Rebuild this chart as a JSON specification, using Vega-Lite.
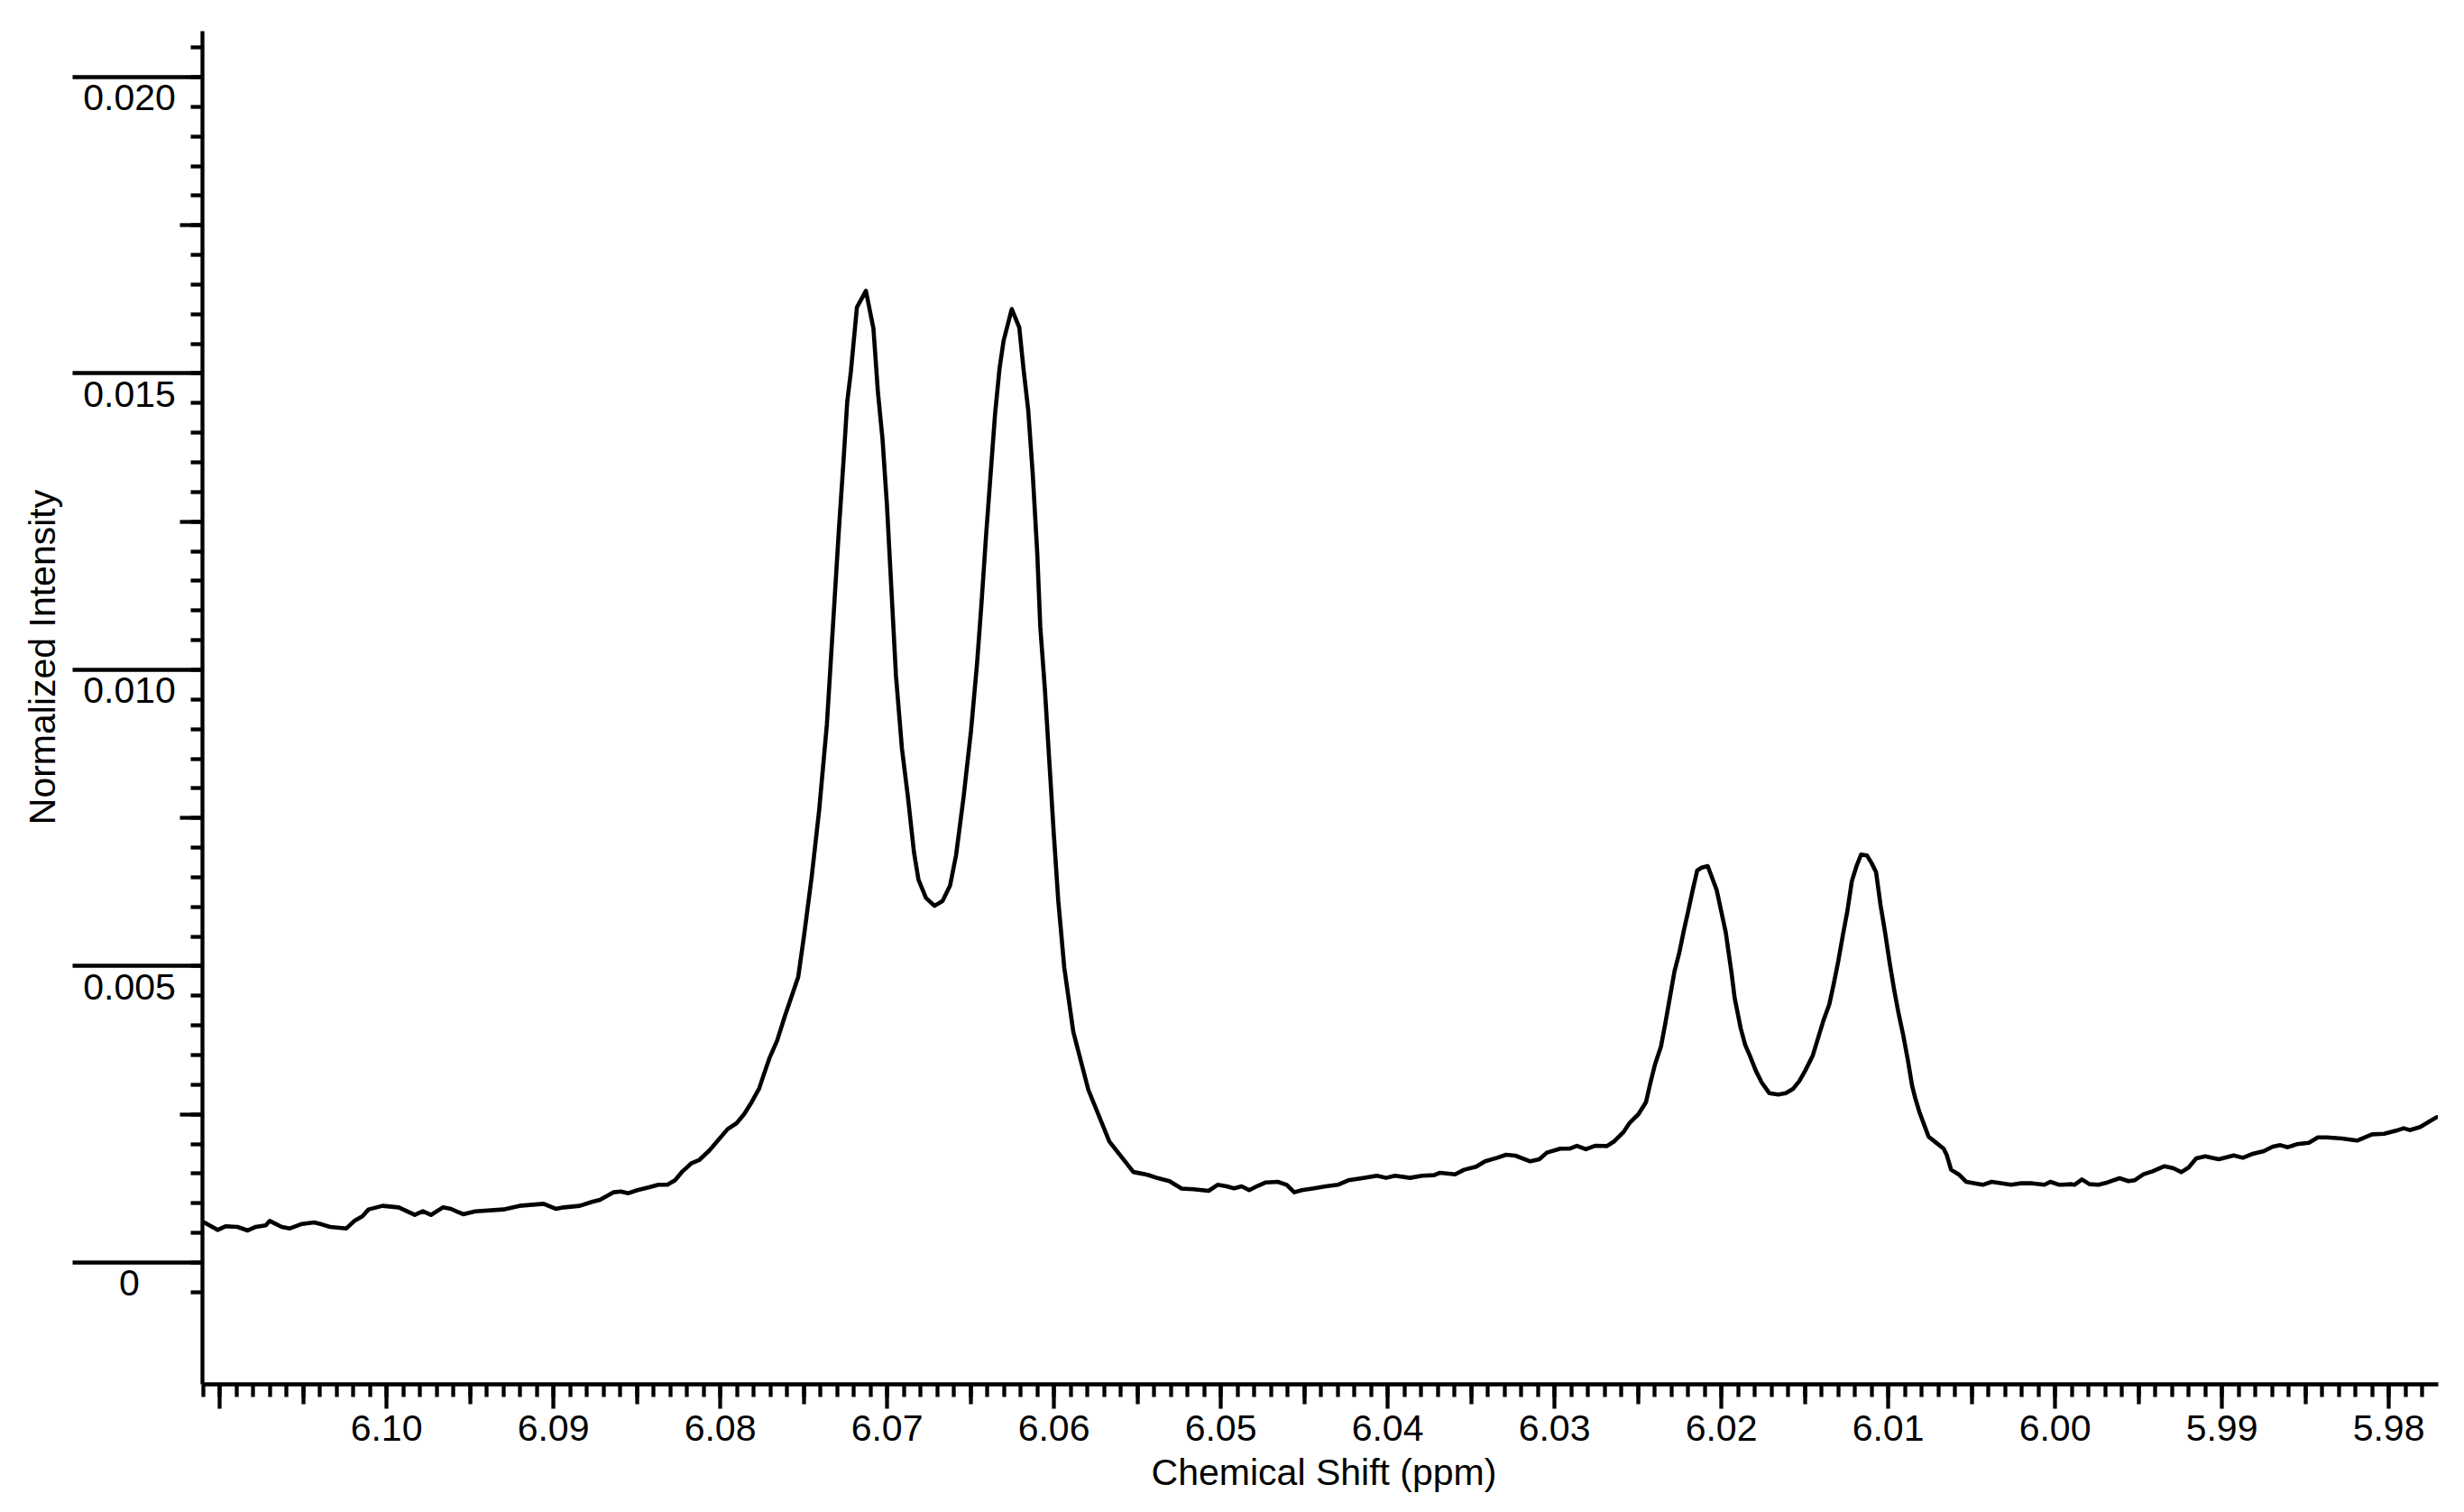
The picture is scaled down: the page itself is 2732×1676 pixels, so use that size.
{
"$schema": "https://vega.github.io/schema/vega-lite/v6.json",
"autosize": {"type": "none"},
"padding": {"left": 224, "top": 34, "right": 29, "bottom": 142},
"width": 2479,
"height": 1500,
"background": "white",
"config": {
  "view": {"stroke": null},
  "axis": {"grid": false, "domainColor": "black", "tickColor": "black", "labelColor": "black", "titleColor": "black", "labelFont": "Liberation Sans", "titleFont": "Liberation Sans", "labelFontSize": 41, "titleFontSize": 41, "titleFontWeight": "normal", "tickWidth": 4.3, "domainWidth": 4.3}
},
"data": {"values": [
{"ppm":6.11090,"intensity":0.000670},{"ppm":6.11010,"intensity":0.000543},{"ppm":6.10962,"intensity":0.000604},{"ppm":6.10890,"intensity":0.000594},{"ppm":6.10829,"intensity":0.000533},{"ppm":6.10781,"intensity":0.000594},{"ppm":6.10721,"intensity":0.000619},{"ppm":6.10697,"intensity":0.000695},{"ppm":6.10625,"intensity":0.000594},{"ppm":6.10576,"intensity":0.000568},{"ppm":6.10504,"intensity":0.000644},{"ppm":6.10431,"intensity":0.000670},{"ppm":6.10383,"intensity":0.000634},{"ppm":6.10335,"intensity":0.000594},{"ppm":6.10238,"intensity":0.000568},{"ppm":6.10190,"intensity":0.000695},{"ppm":6.10142,"intensity":0.000771},{"ppm":6.10105,"intensity":0.000888},{"ppm":6.10021,"intensity":0.000949},{"ppm":6.09924,"intensity":0.000923},{"ppm":6.09828,"intensity":0.000796},{"ppm":6.09780,"intensity":0.000857},{"ppm":6.09731,"intensity":0.000796},{"ppm":6.09659,"intensity":0.000923},{"ppm":6.09611,"intensity":0.000898},{"ppm":6.09538,"intensity":0.000807},{"ppm":6.09466,"intensity":0.000857},{"ppm":6.09297,"intensity":0.000888},{"ppm":6.09201,"intensity":0.000949},{"ppm":6.09056,"intensity":0.000984},{"ppm":6.08983,"intensity":0.000898},{"ppm":6.08935,"intensity":0.000923},{"ppm":6.08839,"intensity":0.000949},{"ppm":6.08766,"intensity":0.001015},{"ppm":6.08718,"intensity":0.001050},
{"ppm":6.08638,"intensity":0.001177},{"ppm":6.08593,"intensity":0.001192},{"ppm":6.08548,"intensity":0.001162},{"ppm":6.08494,"intensity":0.001213},{"ppm":6.08422,"intensity":0.001263},{"ppm":6.08368,"intensity":0.001304},{"ppm":6.08314,"intensity":0.001304},{"ppm":6.08268,"intensity":0.001380},{"ppm":6.08223,"intensity":0.001532},{"ppm":6.08169,"intensity":0.001669},{"ppm":6.08124,"intensity":0.001720},{"ppm":6.08061,"intensity":0.001887},{"ppm":6.08007,"intensity":0.002065},{"ppm":6.07953,"intensity":0.002243},{"ppm":6.07899,"intensity":0.002344},{"ppm":6.07854,"intensity":0.002496},{"ppm":6.07809,"intensity":0.002699},{"ppm":6.07764,"intensity":0.002928},{"ppm":6.07737,"intensity":0.003156},{"ppm":6.07701,"intensity":0.003450},{"ppm":6.07656,"intensity":0.003739},
{"ppm":6.07611,"intensity":0.004140},{"ppm":6.07530,"intensity":0.004808},{"ppm":6.07494,"intensity":0.005527},{"ppm":6.07449,"intensity":0.006503},{"ppm":6.07404,"intensity":0.007633},{"ppm":6.07358,"intensity":0.009072},{"ppm":6.07340,"intensity":0.009894},{"ppm":6.07313,"intensity":0.011127},{"ppm":6.07286,"intensity":0.012359},{"ppm":6.07259,"intensity":0.013490},{"ppm":6.07236,"intensity":0.014517},{"ppm":6.07214,"intensity":0.015031},{"ppm":6.07178,"intensity":0.016109},{"ppm":6.07124,"intensity":0.016387},{"ppm":6.07079,"intensity":0.015750},{"ppm":6.07052,"intensity":0.014671},{"ppm":6.07025,"intensity":0.013901},{"ppm":6.06998,"intensity":0.012770},{"ppm":6.06971,"intensity":0.011332},{"ppm":6.06944,"intensity":0.009894},{"ppm":6.06908,"intensity":0.008661},{"ppm":6.06872,"intensity":0.007839},{"ppm":6.06836,"intensity":0.006914},{"ppm":6.06809,"intensity":0.006452},{"ppm":6.06764,"intensity":0.006144},{"ppm":6.06713,"intensity":0.006010},{"ppm":6.06665,"intensity":0.006092},{"ppm":6.06620,"intensity":0.006349},{"ppm":6.06584,"intensity":0.006863},{"ppm":6.06539,"intensity":0.007839},{"ppm":6.06494,"intensity":0.008969},{"ppm":6.06458,"intensity":0.010099},{"ppm":6.06431,"intensity":0.011127},{"ppm":6.06404,"intensity":0.012257},{"ppm":6.06377,"intensity":0.013284},{"ppm":6.06350,"intensity":0.014311},{"ppm":6.06323,"intensity":0.015082},{"ppm":6.06299,"intensity":0.015544},{"ppm":6.06250,"intensity":0.016079},{"ppm":6.06205,"intensity":0.015770},{"ppm":6.06178,"intensity":0.015031},{"ppm":6.06151,"intensity":0.014363},{"ppm":6.06124,"intensity":0.013284},{"ppm":6.06097,"intensity":0.011948},{"ppm":6.06079,"intensity":0.010716},{"ppm":6.06052,"intensity":0.009688},{"ppm":6.06025,"intensity":0.008455},{"ppm":6.05998,"intensity":0.007222},{"ppm":6.05971,"intensity":0.006092},{"ppm":6.05935,"intensity":0.004962},{"ppm":6.05881,"intensity":0.003883},{"ppm":6.05791,"intensity":0.002907},{"ppm":6.05665,"intensity":0.002034},{"ppm":6.05521,"intensity":0.001520},{"ppm":6.05431,"intensity":0.001469},{"ppm":6.05377,"intensity":0.001418},{"ppm":6.05305,"intensity":0.001367},{"ppm":6.05232,"intensity":0.001240},
{"ppm":6.05160,"intensity":0.001228},{"ppm":6.05070,"intensity":0.001202},{"ppm":6.05016,"intensity":0.001304},{"ppm":6.04962,"intensity":0.001278},{"ppm":6.04917,"intensity":0.001243},{"ppm":6.04872,"intensity":0.001278},{"ppm":6.04827,"intensity":0.001213},{"ppm":6.04782,"intensity":0.001278},{"ppm":6.04728,"intensity":0.001344},{"ppm":6.04656,"intensity":0.001355},{"ppm":6.04602,"intensity":0.001304},{"ppm":6.04557,"intensity":0.001177},{"ppm":6.04512,"intensity":0.001213},{"ppm":6.04440,"intensity":0.001243},{"ppm":6.04368,"intensity":0.001278},{"ppm":6.04296,"intensity":0.001304},{"ppm":6.04233,"intensity":0.001380},{"ppm":6.04151,"intensity":0.001416},{"ppm":6.04061,"intensity":0.001456},{"ppm":6.04007,"intensity":0.001421},{"ppm":6.03953,"intensity":0.001456},{"ppm":6.03863,"intensity":0.001421},{"ppm":6.03791,"intensity":0.001456},{"ppm":6.03719,"intensity":0.001466},{"ppm":6.03683,"intensity":0.001507},{"ppm":6.03593,"intensity":0.001481},{"ppm":6.03539,"intensity":0.001558},{"ppm":6.03467,"intensity":0.001608},{"ppm":6.03413,"intensity":0.001700},{"ppm":6.03341,"intensity":0.001760},{"ppm":6.03287,"intensity":0.001811},{"ppm":6.03232,"intensity":0.001796},{"ppm":6.03142,"intensity":0.001700},{"ppm":6.03088,"intensity":0.001735},{"ppm":6.03043,"intensity":0.001847},{"ppm":6.02962,"intensity":0.001913},{"ppm":6.02908,"intensity":0.001913},{"ppm":6.02863,"intensity":0.001963},{"ppm":6.02809,"intensity":0.001903},{"ppm":6.02755,"intensity":0.001963},{"ppm":6.02683,"intensity":0.001958},{"ppm":6.02638,"intensity":0.002040},
{"ppm":6.02584,"intensity":0.002192},{"ppm":6.02548,"intensity":0.002344},{"ppm":6.02494,"intensity":0.002496},{"ppm":6.02449,"intensity":0.002699},{"ppm":6.02422,"intensity":0.003029},{"ppm":6.02395,"intensity":0.003333},{"ppm":6.02359,"intensity":0.003638},{"ppm":6.02332,"intensity":0.004043},{"ppm":6.02305,"intensity":0.004475},{"ppm":6.02278,"intensity":0.004906},{"ppm":6.02250,"intensity":0.005210},{"ppm":6.02224,"intensity":0.005566},{"ppm":6.02196,"intensity":0.005921},{"ppm":6.02169,"intensity":0.006276},{"ppm":6.02142,"intensity":0.006606},{"ppm":6.02115,"intensity":0.006656},{"ppm":6.02079,"intensity":0.006682},{"ppm":6.02052,"intensity":0.006479},{"ppm":6.02025,"intensity":0.006276},{"ppm":6.01998,"intensity":0.005921},{"ppm":6.01971,"intensity":0.005566},{"ppm":6.01953,"intensity":0.005210},{"ppm":6.01935,"intensity":0.004855},{"ppm":6.01917,"intensity":0.004449},{"ppm":6.01899,"intensity":0.004196},{"ppm":6.01881,"intensity":0.003942},{"ppm":6.01854,"intensity":0.003663},{"ppm":6.01827,"intensity":0.003486},{"ppm":6.01791,"intensity":0.003232},{"ppm":6.01755,"intensity":0.003029},{"ppm":6.01710,"intensity":0.002851},{"ppm":6.01656,"intensity":0.002826},{"ppm":6.01611,"intensity":0.002851},{"ppm":6.01566,"intensity":0.002927},{"ppm":6.01530,"intensity":0.003054},{"ppm":6.01494,"intensity":0.003232},{"ppm":6.01449,"intensity":0.003486},{"ppm":6.01422,"intensity":0.003739},{"ppm":6.01386,"intensity":0.004069},{"ppm":6.01350,"intensity":0.004348},{"ppm":6.01323,"intensity":0.004703},{"ppm":6.01296,"intensity":0.005084},{"ppm":6.01269,"intensity":0.005515},{"ppm":6.01242,"intensity":0.005921},{"ppm":6.01215,"intensity":0.006428},{"ppm":6.01187,"intensity":0.006682},{"ppm":6.01160,"intensity":0.006875},{"ppm":6.01124,"intensity":0.006859},{"ppm":6.01097,"intensity":0.006733},{"ppm":6.01070,"intensity":0.006580},{"ppm":6.01043,"intensity":0.006022},{"ppm":6.01016,"intensity":0.005566},{"ppm":6.00989,"intensity":0.005058},{"ppm":6.00962,"intensity":0.004602},{"ppm":6.00935,"intensity":0.004196},{"ppm":6.00908,"intensity":0.003841},{"ppm":6.00881,"intensity":0.003435},{"ppm":6.00854,"intensity":0.002978},{"ppm":6.00836,"intensity":0.002775},{"ppm":6.00809,"intensity":0.002522},{"ppm":6.00782,"intensity":0.002319},{"ppm":6.00755,"intensity":0.002116},{"ppm":6.00710,"intensity":0.002014},{"ppm":6.00665,"intensity":0.001913},{"ppm":6.00647,"intensity":0.001811},{"ppm":6.00620,"intensity":0.001558},{"ppm":6.00575,"intensity":0.001481},{"ppm":6.00530,"intensity":0.001355},{"ppm":6.00476,"intensity":0.001329},{"ppm":6.00431,"intensity":0.001304},{"ppm":6.00377,"intensity":0.001355},{"ppm":6.00314,"intensity":0.001329},{"ppm":6.00260,"intensity":0.001304},{"ppm":6.00206,"intensity":0.001329},
{"ppm":6.00133,"intensity":0.001329},{"ppm":6.00061,"intensity":0.001304},{"ppm":6.00025,"intensity":0.001355},{"ppm":5.99971,"intensity":0.001304},{"ppm":5.99899,"intensity":0.001314},{"ppm":5.99881,"intensity":0.001304},{"ppm":5.99836,"intensity":0.001395},{"ppm":5.99791,"intensity":0.001314},{"ppm":5.99737,"intensity":0.001304},{"ppm":5.99683,"intensity":0.001344},{"ppm":5.99611,"intensity":0.001415},{"ppm":5.99557,"intensity":0.001365},{"ppm":5.99521,"intensity":0.001380},{"ppm":5.99467,"intensity":0.001481},{"ppm":5.99413,"intensity":0.001532},{"ppm":5.99341,"intensity":0.001618},{"ppm":5.99287,"intensity":0.001583},{"ppm":5.99241,"intensity":0.001517},{"ppm":5.99196,"intensity":0.001598},{"ppm":5.99151,"intensity":0.001750},{"ppm":5.99097,"intensity":0.001786},{"ppm":5.99016,"intensity":0.001735},{"ppm":5.98926,"intensity":0.001801},{"ppm":5.98872,"intensity":0.001760},{"ppm":5.98818,"intensity":0.001821},{"ppm":5.98746,"intensity":0.001872},{"ppm":5.98692,"intensity":0.001948},{"ppm":5.98647,"intensity":0.001973},{"ppm":5.98602,"intensity":0.001938},{"ppm":5.98548,"intensity":0.001989},{"ppm":5.98476,"intensity":0.002014},{"ppm":5.98422,"intensity":0.002105},{"ppm":5.98368,"intensity":0.002105},{"ppm":5.98277,"intensity":0.002085},{"ppm":5.98187,"intensity":0.002050},{"ppm":5.98097,"intensity":0.002156},{"ppm":5.98025,"intensity":0.002166},{"ppm":5.97953,"intensity":0.002217},{"ppm":5.97908,"intensity":0.002258},{"ppm":5.97872,"intensity":0.002227},{"ppm":5.97809,"intensity":0.002278},{"ppm":5.97755,"intensity":0.002369},{"ppm":5.97710,"intensity":0.002445}
]},
"resolve": {"axis": {"x": "independent", "y": "independent"}},
"layer": [
  {
    "mark": {"type": "line", "color": "black", "strokeWidth": 4.6, "strokeJoin": "round", "strokeCap": "round", "clip": true},
    "encoding": {
      "x": {"field": "ppm", "type": "quantitative",
        "scale": {"domain": [5.97703, 6.11103], "reverse": true, "nice": false, "zero": false},
        "axis": {"orient": "bottom", "title": null, "labels": false, "domain": true, "tickSize": 14,
          "values": [6.111,6.110,6.109,6.108,6.107,6.106,6.105,6.104,6.103,6.102,6.101,6.100,6.099,6.098,6.097,6.096,6.095,6.094,6.093,6.092,6.091,6.090,6.089,6.088,6.087,6.086,6.085,6.084,6.083,6.082,6.081,6.080,6.079,6.078,6.077,6.076,6.075,6.074,6.073,6.072,6.071,6.070,6.069,6.068,6.067,6.066,6.065,6.064,6.063,6.062,6.061,6.060,6.059,6.058,6.057,6.056,6.055,6.054,6.053,6.052,6.051,6.050,6.049,6.048,6.047,6.046,6.045,6.044,6.043,6.042,6.041,6.040,6.039,6.038,6.037,6.036,6.035,6.034,6.033,6.032,6.031,6.030,6.029,6.028,6.027,6.026,6.025,6.024,6.023,6.022,6.021,6.020,6.019,6.018,6.017,6.016,6.015,6.014,6.013,6.012,6.011,6.010,6.009,6.008,6.007,6.006,6.005,6.004,6.003,6.002,6.001,6.000,5.999,5.998,5.997,5.996,5.995,5.994,5.993,5.992,5.991,5.990,5.989,5.988,5.987,5.986,5.985,5.984,5.983,5.982,5.981,5.980,5.979,5.978]}},
      "y": {"field": "intensity", "type": "quantitative",
        "scale": {"domain": [-0.002055, 0.020776], "nice": false, "zero": false},
        "axis": {"orient": "left", "title": null, "labels": false, "domain": true, "tickSize": 13,
          "values": [-0.0005,0,0.0005,0.001,0.0015,0.002,0.0025,0.003,0.0035,0.004,0.0045,0.005,0.0055,0.006,0.0065,0.007,0.0075,0.008,0.0085,0.009,0.0095,0.01,0.0105,0.011,0.0115,0.012,0.0125,0.013,0.0135,0.014,0.0145,0.015,0.0155,0.016,0.0165,0.017,0.0175,0.018,0.0185,0.019,0.0195,0.02,0.0205]}}
    }
  },
  {
    "mark": {"type": "line", "strokeOpacity": 0, "strokeWidth": 1},
    "encoding": {
      "x": {"field": "ppm", "type": "quantitative",
        "axis": {"orient": "bottom", "title": null, "labels": false, "domain": false, "tickSize": 22,
          "values": [6.105,6.095,6.085,6.075,6.065,6.055,6.045,6.035,6.025,6.015,6.005,5.995,5.985]}},
      "y": {"field": "intensity", "type": "quantitative",
        "axis": {"orient": "left", "title": null, "labels": false, "domain": false, "tickSize": 25,
          "values": [0.0025,0.0075,0.0125,0.0175]}}
    }
  },
  {
    "mark": {"type": "line", "strokeOpacity": 0, "strokeWidth": 1},
    "encoding": {
      "x": {"field": "ppm", "type": "quantitative",
        "axis": {"orient": "bottom", "domain": false, "tickSize": 27,
          "values": [6.11,6.10,6.09,6.08,6.07,6.06,6.05,6.04,6.03,6.02,6.01,6.00,5.99,5.98],
          "labelExpr": "datum.value > 6.105 ? '' : format(datum.value, '.2f')",
          "labelAlign": "center", "labelBaseline": "alphabetic", "labelPadding": 35,
          "labelFlush": false, "labelOverlap": false, "labelBound": false,
          "title": "Chemical Shift (ppm)", "titleX": 1243.5, "titleY": 111,
          "titleAlign": "center", "titleBaseline": "alphabetic", "titleAngle": 0}},
      "y": {"field": "intensity", "type": "quantitative",
        "axis": {"orient": "left", "domain": false, "tickSize": 144,
          "values": [0,0.005,0.01,0.015,0.02],
          "labelExpr": "datum.value == 0 ? '0' : format(datum.value, '.3f')",
          "labelAlign": "center", "labelBaseline": "alphabetic", "labelPadding": -63, "labelOffset": 37,
          "labelFlush": false, "labelOverlap": false, "labelBound": false,
          "title": "Normalized Intensity", "titleX": -164, "titleY": 694,
          "titleAlign": "center", "titleBaseline": "alphabetic", "titleAngle": 270}}
    }
  }
]
}
